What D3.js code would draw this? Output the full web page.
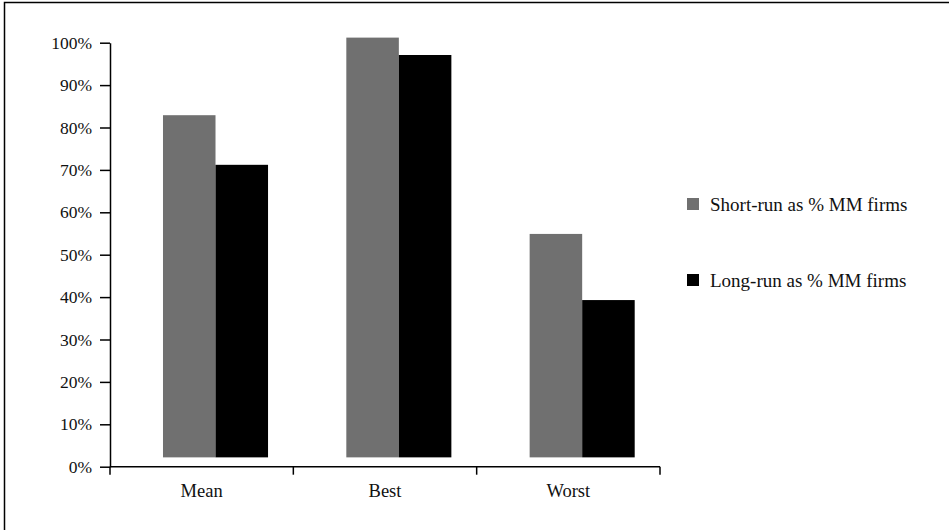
<!DOCTYPE html>
<html>
<head>
<meta charset="utf-8">
<script src="https://cdn.jsdelivr.net/npm/d3@7"></script>
<style>
  body { margin: 0; background: #fff; }
  svg { display: block; }
  text { font-family: "Liberation Serif", "DejaVu Serif", serif; fill: #111; }
</style>
</head>
<body>
<div id="chart"></div>
<script>
// Chart data
const categories = ["Mean", "Best", "Worst"];
const seriesNames = ["Short-run as % MM firms", "Long-run as % MM firms"];
const shortRun = [0.829, 1.012, 0.549];
const longRun = [0.712, 0.971, 0.393];
const barBase = 0.022; // bars sit a little above the 0% line
const yTicks = [0, 0.1, 0.2, 0.3, 0.4, 0.5, 0.6, 0.7, 0.8, 0.9, 1.0];
const colors = ["#707070", "#000000"];

const width = 949, height = 530;
const margin = { top: 42.7, left: 110, right: 289, bottom: 63.3 };

const svg = d3.select('#chart')
    .append('svg')
    .attr('width', width)
    .attr('height', height);

// outer frame (right/bottom edges fall outside the picture)
svg.append('rect')
    .attr('x', 4.5)
    .attr('y', 2.5)
    .attr('width', width + 10)
    .attr('height', height + 10)
    .attr('fill', 'none')
    .attr('stroke', '#000')
    .attr('stroke-width', 1.5);

const x = d3.scaleBand()
    .domain(categories)
    .range([margin.left, width - margin.right]);

const bw = x.bandwidth();
const xInner = d3.scaleBand()
    .domain([0, 1])
    .range([bw * 0.289, bw * 0.862]);

const y = d3.scaleLinear()
    .domain([0, 1])
    .range([height - margin.bottom, margin.top]);

// Bars
const rows = categories.map((c, i) => ({ cat: c, vals: [shortRun[i], longRun[i]] }));
const group = svg.append('g')
    .selectAll('g')
    .data(rows)
    .join('g')
    .attr('transform', d => `translate(${x(d.cat)},0)`);

group.selectAll('rect')
    .data(d => d.vals.map((v, s) => ({ v, s })))
    .join('rect')
    .attr('x', d => xInner(d.s))
    .attr('width', xInner.bandwidth())
    .attr('y', d => y(d.v))
    .attr('height', d => y(barBase) - y(d.v))
    .attr('fill', d => colors[d.s]);

// Y axis
const yAxis = svg.append('g')
    .attr('transform', `translate(${margin.left},0)`)
    .call(d3.axisLeft(y).tickValues(yTicks).tickFormat(d3.format('.0%')).tickSize(10).tickSizeOuter(0));
yAxis.select('.domain').attr('stroke', '#000').attr('stroke-width', 1.5);
yAxis.selectAll('.tick line').attr('stroke', '#000').attr('stroke-width', 1.5);
yAxis.selectAll('.tick text')
    .attr('x', -18)
    .attr('font-size', 17.5)
    .attr('font-family', '"Liberation Serif", serif')
    .attr('fill', '#111');

// X axis with ticks between categories
const xAxisY = y(0);
const xg = svg.append('g');
xg.append('line')
    .attr('x1', margin.left).attr('x2', width - margin.right)
    .attr('y1', xAxisY).attr('y2', xAxisY)
    .attr('stroke', '#000').attr('stroke-width', 1.5);
const edges = categories.map(c => x(c)).concat([x(categories[categories.length - 1]) + bw]);
xg.selectAll('.xt')
    .data(edges)
    .join('line')
    .attr('x1', d => d).attr('x2', d => d)
    .attr('y1', xAxisY).attr('y2', xAxisY + 8)
    .attr('stroke', '#000').attr('stroke-width', 1.5);
xg.selectAll('.xl')
    .data(categories)
    .join('text')
    .attr('x', d => x(d) + bw / 2)
    .attr('y', xAxisY + 30)
    .attr('text-anchor', 'middle')
    .attr('font-size', 18.5)
    .text(d => d);

// Legend
const legend = svg.append('g')
    .selectAll('g')
    .data(seriesNames)
    .join('g')
    .attr('transform', (d, i) => `translate(687,${198 + i * 76})`);
legend.append('rect')
    .attr('width', 12)
    .attr('height', 12)
    .attr('fill', (d, i) => colors[i]);
legend.append('text')
    .attr('x', 23)
    .attr('y', 6)
    .attr('dy', '0.35em')
    .attr('font-size', 19)
    .text(d => d);
</script>
</body>
</html>
